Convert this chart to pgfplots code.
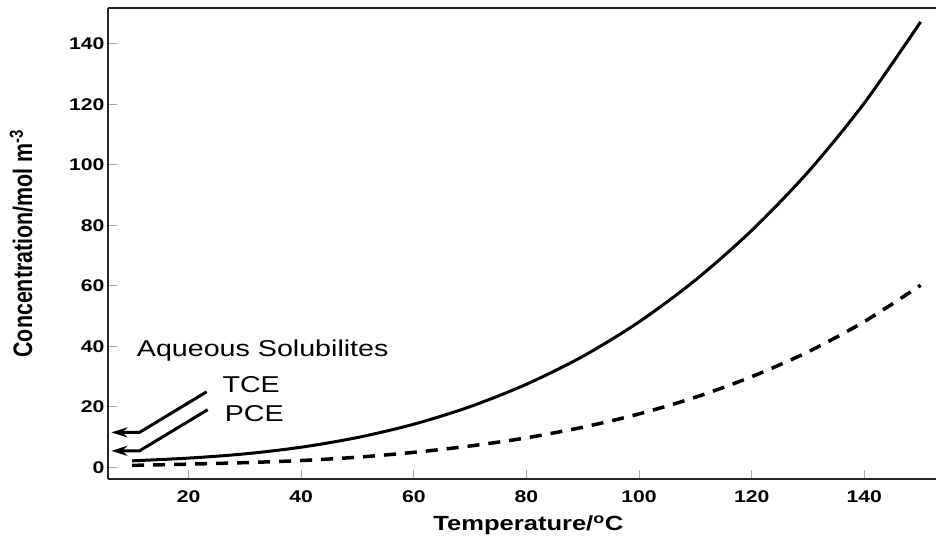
\documentclass[border=0pt]{standalone}
\usepackage{pgfplots}
\pgfplotsset{compat=1.18}
\usepackage{fontspec}
\setmainfont[FakeStretch=1.25]{Liberation Sans}
\newfontfamily\ylfont{Liberation Sans}
\usetikzlibrary{arrows.meta}
\begin{document}
\begin{tikzpicture}[x=1bp,y=1bp]
\useasboundingbox (0,0) rectangle (936,538);
\begin{axis}[
  at={(108bp,59bp)}, anchor=south west,
  scale only axis, width=834bp, height=471bp,
  xmin=5.7, xmax=153.8, ymin=-3.8, ymax=151.8,
  axis x line*=box, axis y line*=left,
  xtick={20,40,...,140}, ytick={0,20,...,140},
  xtick pos=left, ytick pos=left,
  tick align=inside, major tick length=9bp,
  tick style={gray!70, line width=1bp},
  axis line style={black!85, line width=2.5bp},
  /pgf/number format/assume math mode=true,
  ticklabel style={font=\fontsize{17}{20}\selectfont\bfseries},
  xticklabel style={yshift=-8bp},
  xlabel={Temperature/\textsuperscript{o}C},
  xlabel style={font=\fontsize{20.5}{24}\selectfont\bfseries, at={(axis description cs:0.504,-0.098)}, anchor=center},
  ylabel={\scalebox{1}[1.25]{Concentration/mol m\textsuperscript{-3}}},
  ylabel style={font=\ylfont\fontsize{21.5}{25}\selectfont\bfseries, at={(axis description cs:-0.104,0.5)}, anchor=center},
  clip=false,
]
\addplot[black, line width=3bp, smooth] coordinates {
 (10,2.2) (20,3.1) (30,4.5) (40,6.7) (50,9.9) (60,14.3) (70,20.1) (80,27.5)
 (90,36.7) (100,48.1) (110,61.9) (120,78.3) (130,97.6) (140,120.4) (150,147.2)};
\addplot[black, line width=3.5bp, smooth, dash pattern=on 12bp off 9bp] coordinates {
 (10,0.7) (20,1.1) (30,1.6) (40,2.3) (50,3.4) (60,5.0) (70,7.1) (80,9.8)
 (90,13.3) (100,17.7) (110,23.2) (120,30.0) (130,38.2) (140,48.2) (150,60.2)};
% annotation arrows
\addplot[black, line width=3bp, -{Stealth[length=16bp,width=10bp]}] coordinates {(23.2,25.0) (11.3,11.6) (6.3,11.6)};
\addplot[black, line width=3bp, -{Stealth[length=16bp,width=10bp]}] coordinates {(23.4,19.1) (11.3,5.5) (6.3,5.5)};
\node[anchor=west, font=\fontsize{23}{27}\selectfont, inner sep=0pt] at (axis cs:10.8,38.6) {Aqueous Solubilites};
\node[anchor=west, font=\fontsize{23}{27}\selectfont, inner sep=0pt] at (axis cs:26.0,27.4) {TCE};
\node[anchor=west, font=\fontsize{23}{27}\selectfont, inner sep=0pt] at (axis cs:26.4,17.9) {PCE};
\end{axis}
\end{tikzpicture}
\end{document}
